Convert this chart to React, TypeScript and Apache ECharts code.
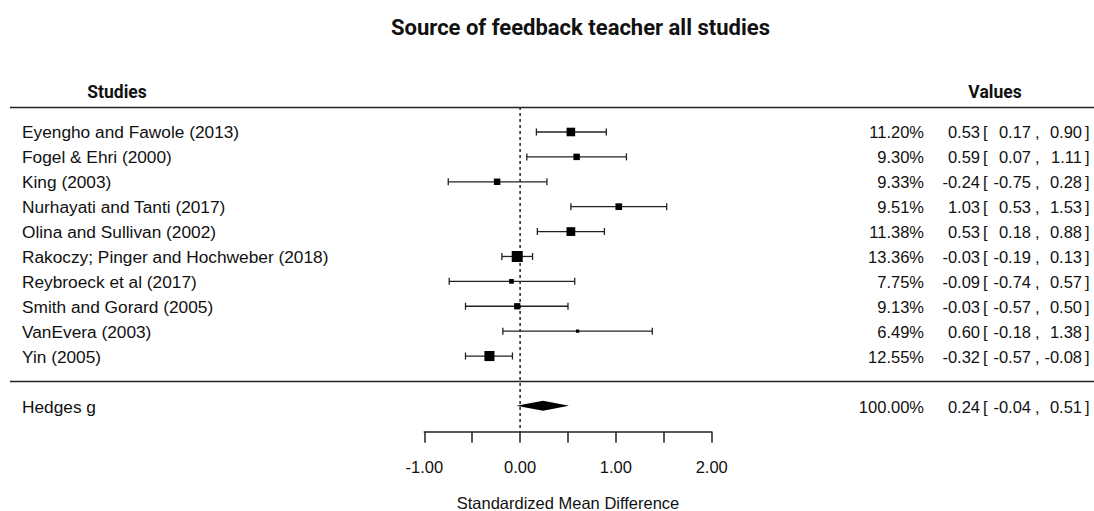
import React, { useEffect, useRef } from "react";
import * as echarts from "echarts";

const studies = [
  "Eyengho and Fawole (2013)",
  "Fogel & Ehri (2000)",
  "King (2003)",
  "Nurhayati and Tanti (2017)",
  "Olina and Sullivan (2002)",
  "Rakoczy; Pinger and Hochweber (2018)",
  "Reybroeck et al (2017)",
  "Smith and Gorard (2005)",
  "VanEvera (2003)",
  "Yin (2005)",
];
const weights = [11.2, 9.3, 9.33, 9.51, 11.38, 13.36, 7.75, 9.13, 6.49, 12.55];
const estimates = [0.53, 0.59, -0.24, 1.03, 0.53, -0.03, -0.09, -0.03, 0.6, -0.32];
const lowers = [0.17, 0.07, -0.75, 0.53, 0.18, -0.19, -0.74, -0.57, -0.18, -0.57];
const uppers = [0.9, 1.11, 0.28, 1.53, 0.88, 0.13, 0.57, 0.5, 1.38, -0.08];

const summaryLabel = "Hedges g";
const summaryWeight = 100.0;
const summaryEstimate = 0.24;
const summaryLower = -0.04;
const summaryUpper = 0.51;

const FONT = "'Liberation Sans', Arial, sans-serif";
const BOLD = "'Roboto', 'Liberation Sans', Arial, sans-serif";
const INK = "#111";

function valueTexts(y: number, w: number, est: number, lo: number, hi: number) {
  const f = (v: number) => v.toFixed(2);
  const mk = (text: string, x: number, align: string) => ({
    type: "text",
    style: { text, x, y, fill: INK, font: `16.5px ${FONT}`, align, verticalAlign: "middle" },
  });
  return [
    mk(w.toFixed(2) + "%", 924, "right"),
    mk(f(est), 980, "right"),
    mk("[", 983, "left"),
    mk(f(lo), 1031, "right"),
    mk(",", 1035, "left"),
    mk(f(hi), 1082, "right"),
    mk("]", 1085, "left"),
  ];
}

export default function App() {
  const ref = useRef<HTMLDivElement>(null);
  useEffect(() => {
    document.body.style.margin = "0";
    if (!ref.current) return;
    const chart = echarts.init(ref.current, null, { renderer: "svg" });

    const rows = studies.map((s, i) => [i, estimates[i], lowers[i], uppers[i], weights[i]]);
    const summaryRow = studies.length + 1;

    const option: any = {
      animation: false,
      backgroundColor: "#fff",
      title: {
        text: "Source of feedback teacher all studies",
        left: 386,
        top: 11,
        textStyle: { fontFamily: BOLD, fontWeight: "bold", fontSize: 22, color: INK },
      },
      grid: {
        left: 424.3,
        width: 287.4,
        top: 107.1,
        height: 324.6,
        containLabel: false,
        outerBoundsMode: "none",
      },
      xAxis: {
        type: "value",
        min: -1,
        max: 2,
        interval: 0.5,
        position: "bottom",
        axisLine: { show: true, onZero: false, lineStyle: { color: "#222", width: 1.5 } },
        axisTick: { show: true, inside: false, length: 11, lineStyle: { color: "#222", width: 1.5 } },
        axisLabel: {
          margin: 27,
          fontFamily: FONT,
          fontSize: 16.5,
          color: INK,
          formatter: (v: number) => (Number.isInteger(v) ? v.toFixed(2) : ""),
        },
        splitLine: { show: false },
        name: "Standardized Mean Difference",
        nameLocation: "middle",
        nameGap: 63,
        nameTextStyle: { fontFamily: FONT, fontSize: 16.5, color: INK },
      },
      yAxis: {
        type: "value",
        min: -1,
        max: 12.04,
        inverse: true,
        show: false,
      },
      graphic: [
        { type: "line", shape: { x1: 10, y1: 107.5, x2: 1094, y2: 107.5 }, style: { stroke: "#222", lineWidth: 1.5 } },
        { type: "line", shape: { x1: 10, y1: 381.5, x2: 1094, y2: 381.5 }, style: { stroke: "#222", lineWidth: 1.5 } },
        { type: "text", style: { text: "Studies", x: 117, y: 92, align: "center", verticalAlign: "middle", font: `bold 17.5px ${BOLD}`, fill: INK } },
        { type: "text", style: { text: "Values", x: 995, y: 92, align: "center", verticalAlign: "middle", font: `bold 17.5px ${BOLD}`, fill: INK } },
      ],
      series: [
        {
          type: "line",
          data: [[0, -1], [0, 12.04]],
          symbol: "none",
          silent: true,
          lineStyle: { color: "#222", width: 1.5, type: [3, 3] },
          z: 1,
        },
        {
          type: "custom",
          clip: false,
          data: rows,
          z: 3,
          renderItem: (params: any, api: any) => {
            const i = api.value(0);
            const est = api.value(1);
            const lo = api.value(2);
            const hi = api.value(3);
            const w = api.value(4);
            const [xe, y] = api.coord([est, i]);
            const xl = api.coord([lo, i])[0];
            const xh = api.coord([hi, i])[0];
            const size = 3.3 + (w - 6.49) * 1.12;
            const stroke = { stroke: "#222", lineWidth: 1.3 };
            return {
              type: "group",
              children: [
                { type: "line", shape: { x1: xl, y1: y, x2: xh, y2: y }, style: stroke },
                { type: "line", shape: { x1: xl, y1: y - 3.5, x2: xl, y2: y + 3.5 }, style: stroke },
                { type: "line", shape: { x1: xh, y1: y - 3.5, x2: xh, y2: y + 3.5 }, style: stroke },
                { type: "rect", shape: { x: xe - size / 2, y: y - size / 2, width: size, height: size }, style: { fill: "#000" } },
                {
                  type: "text",
                  style: { text: studies[i], x: 22, y: y + 0.5, fill: INK, font: `17.3px ${FONT}`, align: "left", verticalAlign: "middle" },
                },
                ...valueTexts(y + 0.5, w, est, lo, hi),
              ],
            };
          },
        },
        {
          type: "custom",
          clip: false,
          data: [[summaryRow, summaryEstimate, summaryLower, summaryUpper, summaryWeight]],
          z: 3,
          renderItem: (params: any, api: any) => {
            const i = api.value(0);
            const est = api.value(1);
            const lo = api.value(2);
            const hi = api.value(3);
            const w = api.value(4);
            const [xe, y] = api.coord([est, i]);
            const xl = api.coord([lo, i])[0];
            const xh = api.coord([hi, i])[0];
            return {
              type: "group",
              children: [
                {
                  type: "polygon",
                  shape: { points: [[xl, y], [xe, y - 5], [xh, y], [xe, y + 5]] },
                  style: { fill: "#000" },
                },
                {
                  type: "text",
                  style: { text: summaryLabel, x: 22, y: y + 1.5, fill: INK, font: `17.3px ${FONT}`, align: "left", verticalAlign: "middle" },
                },
                ...valueTexts(y + 1.5, w, est, lo, hi),
              ],
            };
          },
        },
      ],
    };
    chart.setOption(option);
    return () => chart.dispose();
  }, []);
  return <div ref={ref} style={{ width: 1094, height: 511 }} />;
}
